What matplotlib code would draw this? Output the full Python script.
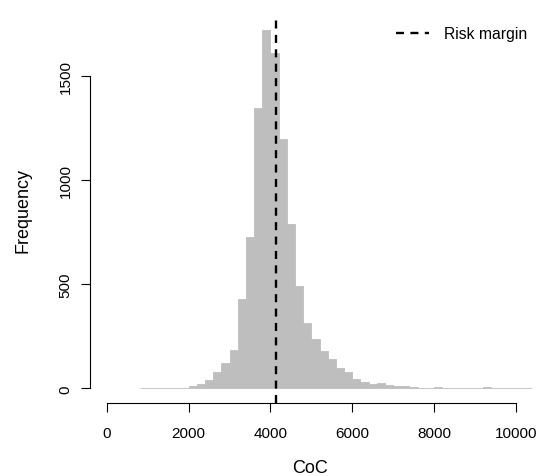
import numpy as np
import matplotlib
matplotlib.use('Agg')
import matplotlib.pyplot as plt

plt.rcParams['font.family'] = ['Liberation Sans', 'DejaVu Sans']

# histogram of simulated CoC values (bins of 200)
bin_start = 800
bin_width = 200
counts = [0, 0, 1, 1, 2, 4, 10, 21, 42, 77,
          121, 186, 429, 726, 1346, 1724, 1612, 1199, 790, 494,
          316, 237, 180, 141, 96, 77, 45, 31, 23, 25,
          16, 11, 9, 6, 4, 3, 5, 2, 2, 1,
          1, 1, 5, 1, 1, 0, 1, 1]
risk_margin = 4125
x_ticks = [0, 2000, 4000, 6000, 8000, 10000]
y_ticks = [0, 500, 1000, 1500]

lefts = bin_start + bin_width * np.arange(len(counts))

fig = plt.figure(figsize=(5.36, 4.77), dpi=100)
ax = fig.add_axes([90/536, 1 - 403.7/477, 459/536, 387.3/477])

ax.bar(lefts, counts, width=bin_width, align='edge',
       color='#bebebe', edgecolor='#bebebe', linewidth=0.6)
ax.axvline(risk_margin, color='black', lw=1.7, dashes=(3.4, 2.7),
           label='Risk margin')

# R-like padding of the ranges
xr = (0, 10400)
pad = 0.04 * (xr[1] - xr[0])
ax.set_xlim(xr[0] - pad, xr[1] + pad)
ymax = max(counts)
ax.set_ylim(-0.04 * ymax, 1.04 * ymax)

ax.spines['top'].set_visible(False)
ax.spines['right'].set_visible(False)
ax.spines['bottom'].set_bounds(0, 10000)
ax.spines['left'].set_bounds(0, 1500)
for s in ('bottom', 'left'):
    ax.spines[s].set_linewidth(0.8)

ax.set_xticks(x_ticks)
ax.set_yticks(y_ticks)
ax.tick_params(axis='both', length=6.5, width=0.8, labelsize=11)
ax.tick_params(axis='x', pad=10)
ax.tick_params(axis='y', pad=6)
plt.setp(ax.get_yticklabels(), rotation=90, va='center')

ax.set_xlabel('CoC', fontsize=13)
ax.set_ylabel('Frequency', fontsize=13)
ax.xaxis.set_label_coords(0.479, -0.145)
ax.yaxis.set_label_coords(-0.128, 0.5)

ax.legend(loc='center left', bbox_to_anchor=(396/536, 1 - 35/477),
          bbox_transform=fig.transFigure, frameon=False, fontsize=11.3,
          handlelength=2.1, handletextpad=0.95, borderpad=0, borderaxespad=0)

fig.savefig('out.png', dpi=100)
